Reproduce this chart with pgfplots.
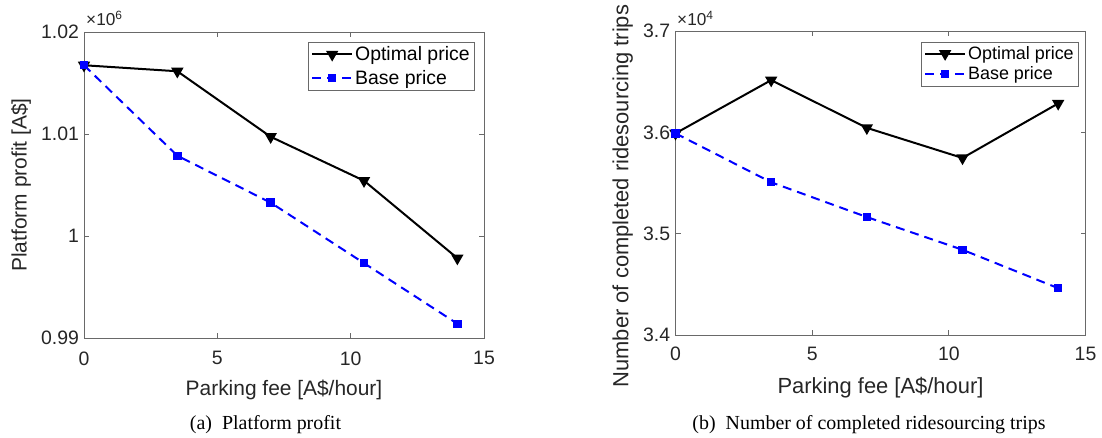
\documentclass[border=0pt]{standalone}
\usepackage{pgfplots}
\pgfplotsset{compat=1.18}
\usepackage{fontspec}
\setmainfont{Liberation Sans}
\newfontfamily\capfont{Liberation Serif}
\definecolor{axgray}{RGB}{38,38,38}
\definecolor{boxgray}{RGB}{105,105,105}
\definecolor{mblue}{RGB}{0,0,255}

\pgfplotsset{
  mystyle/.style={
    scale only axis,
    axis line style={boxgray, line width=0.8bp},
    every tick/.style={boxgray, line width=0.8bp},
    tick align=inside,
    major tick length=5bp,
    xmin=0, xmax=15, xtick={0,5,10,15},
    scaled y ticks=false,
    /pgf/number format/assume math mode=true,
    tick label style={text=axgray},
    label style={text=axgray},
    legend cell align=left,
    legend style={draw=boxgray, line width=0.6bp, fill=white, inner sep=2.5bp, row sep=4bp, text=black},
    legend image code/.code={\draw[mark repeat=2,mark phase=2,##1] plot coordinates {(0bp,0bp) (20bp,0bp) (40bp,0bp)};},
  },
  opt/.style={black, line width=2bp, mark=triangle*, mark options={rotate=180, solid, fill=black}, mark size=5.2bp},
  base/.style={mblue, line width=2bp, dash pattern=on 9bp off 6bp, mark=square*, mark options={solid, fill=mblue}, mark size=3.2bp},
}

\begin{document}
\begin{tikzpicture}
\useasboundingbox (0bp,0bp) rectangle (1102bp,438bp);

% ---------- left panel ----------
\begin{axis}[mystyle, name=left,
  at={(84bp,100bp)}, anchor=south west, width=400bp, height=306bp,
  ymin=990000, ymax=1020000,
  ytick={990000,1000000,1010000,1020000}, yticklabels={0.99,1,1.01,1.02},
  tick label style={font=\fontsize{19.5}{23}\selectfont},
  xticklabel style={yshift=-10bp},
  yticklabel style={xshift=-1.5bp},
  xlabel={Parking fee [A\$/hour]}, ylabel={Platform profit [A\$]},
  label style={font=\fontsize{21}{25}\selectfont},
  xlabel style={at={(axis description cs:0.5,0)}, anchor=base, yshift=-57bp},
  ylabel style={at={(axis description cs:-0.1575,0.5)}, anchor=center},
  legend style={at={(axis description cs:0.976,0.968)}, anchor=north east, font=\fontsize{19.5}{22}\selectfont},
]
\addplot[opt] coordinates {(0,1016740) (3.5,1016150) (7,1009730) (10.5,1005420) (14,997830)};
\addplot[base] coordinates {(0,1016740) (3.5,1007870) (7,1003270) (10.5,997340) (14,991400)};
\legend{Optimal price, Base price}
\end{axis}
\node[anchor=base west, inner sep=0pt, text=axgray, font=\LARGE] at ([xshift=2bp,yshift=6bp]left.north west) {×10\textsuperscript{6}};

% ---------- right panel ----------
\begin{axis}[mystyle, name=right,
  at={(675.5bp,103bp)}, anchor=south west, width=410bp, height=304bp,
  ymin=34000, ymax=37000,
  ytick={34000,35000,36000,37000}, yticklabels={3.4,3.5,3.6,3.7},
  tick label style={font=\fontsize{19.5}{23}\selectfont},
  xticklabel style={yshift=-8.5bp},
  yticklabel style={xshift=-1.8bp},
  xlabel={Parking fee [A\$/hour]}, ylabel={Number of completed ridesourcing trips},
  label style={font=\fontsize{22}{26}\selectfont},
  xlabel style={at={(axis description cs:0.5,0)}, anchor=base, yshift=-58bp},
  ylabel style={at={(axis description cs:-0.129,0.457)}, anchor=center},
  legend style={at={(axis description cs:0.983,0.965)}, anchor=north east, font=\fontsize{18}{20}\selectfont, row sep=2bp},
]
\addplot[opt] coordinates {(0,35990) (3.5,36515) (7,36044) (10.5,35747) (14,36285)};
\addplot[base] coordinates {(0,35990) (3.5,35507) (7,35164) (10.5,34841) (14,34462)};
\legend{Optimal price, Base price}
\end{axis}
\node[anchor=base west, inner sep=0pt, text=axgray, font=\LARGE] at ([xshift=1.5bp,yshift=5bp]right.north west) {×10\textsuperscript{4}};

% ---------- captions ----------
\node[anchor=base, inner sep=0pt, font=\capfont\fontsize{20}{24}\selectfont] at (265.5bp,9bp) {(a)\ \ Platform profit};
\node[anchor=base, inner sep=0pt, font=\capfont\fontsize{20}{24}\selectfont] at (869bp,9bp) {(b)\ \ Number of completed ridesourcing trips};
\end{tikzpicture}
\end{document}
